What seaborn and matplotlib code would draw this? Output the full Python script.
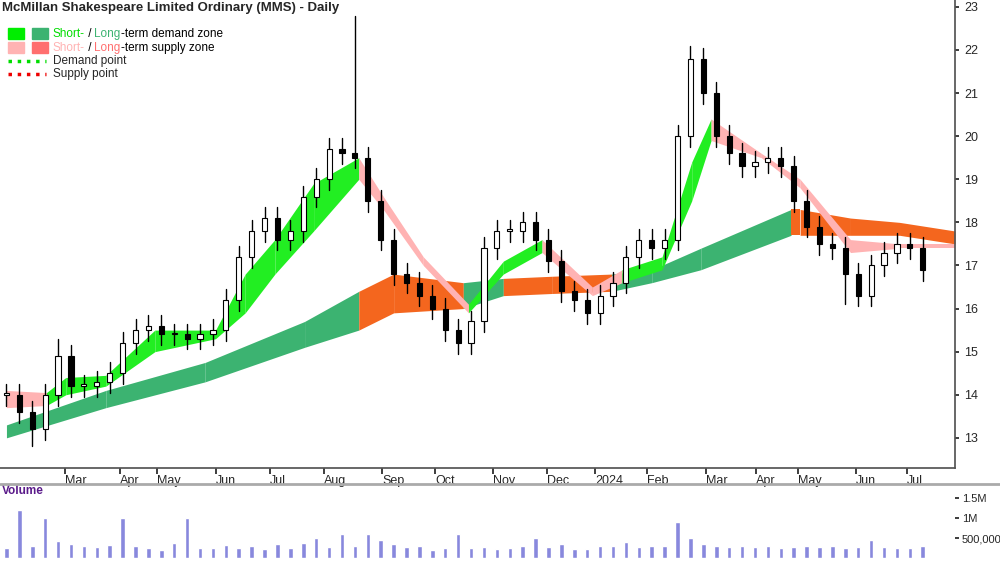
import matplotlib
matplotlib.use("Agg")
import matplotlib.pyplot as plt
import seaborn as sns
import numpy as np

sns.set_theme(style="white")
plt.rcParams['font.family'] = ['Liberation Sans', 'DejaVu Sans']

# weekly closes
closes = [14.0,13.6,13.2,14.0,14.9,14.2,14.2,14.3,14.5,15.2,15.5,15.6,15.4,15.4,15.3,15.4,15.5,16.2,
          17.2,17.8,18.1,17.6,17.8,18.6,19.0,19.7,19.6,19.5,18.5,17.6,16.8,16.6,16.3,16.0,15.5,15.2,
          15.7,17.4,17.8,17.8,18.0,17.6,17.1,16.4,16.2,15.9,16.3,16.6,17.2,17.6,17.4,17.6,20.0,21.8,
          21.0,20.0,19.6,19.3,19.4,19.5,19.3,18.5,17.9,17.5,17.4,16.8,16.3,17.0,17.3,17.5,17.4,16.9]
highs_extra = {2: 12.8, 4: 15.3, 27: 22.8, 53: 22.1, 65: 16.1}

volume = [250,1200,300,1000,420,350,300,280,320,1000,300,250,200,380,1000,260,250,330,240,
          300,220,350,250,380,500,280,600,300,600,450,340,280,300,200,250,600,240,280,220,
          250,300,500,280,340,230,220,300,300,400,280,300,300,900,500,350,300,280,300,280,
          300,250,280,300,280,300,260,280,450,280,260,250,300]

# long-term zone (week, lower, upper, type)
lt_x  = [0, 7.7, 15.4, 23.1, 27.3, 30.0, 35.4, 38.5, 42.3, 46.9, 50.0, 53.8, 60.8, 61.5, 65.4, 69.2, 73.5]
lt_lo = [13.0,13.7,14.3,15.1,15.5,15.9,16.0,16.3,16.35,16.4,16.6,16.9,17.7,17.7,17.7,17.7,17.5]
lt_hi = [13.3,14.1,14.75,15.7,16.4,16.8,16.6,16.7,16.75,16.8,16.9,17.4,18.3,18.3,18.1,18.0,17.8]
lt_ty = ['d','d','d','d','s','s','d','s','s','d','d','d','s','s','s','s','s']

# short-term zone
st_x  = [0,3.1,4.6,7.7,11.5,16.2,18.5,20.8,23.8,27.3,29.2,32.3,35.8,38.5,41.5,45.4,47.7,50.8,53.1,54.6,58.5,61.5,65.4,69.2,73.5]
st_lo = [13.7,13.75,14.0,14.2,15.0,15.3,15.9,16.8,17.8,19.0,18.3,17.0,15.9,16.8,17.3,16.3,16.6,16.9,18.5,19.9,19.5,18.8,17.3,17.4,17.4]
st_hi = [14.1,14.05,14.4,14.45,15.5,15.5,16.8,17.6,18.9,19.5,18.6,17.2,16.1,17.1,17.6,16.5,16.9,17.2,19.4,20.4,19.6,19.0,17.6,17.5,17.5]
st_ty = ['s','d','d','d','d','d','d','d','d','s','s','s','d','d','s','s','d','d','d','s','s','s','s','s','s']

month_pos = [4.5,8.8,11.7,16.2,20.4,24.6,29.1,33.2,37.7,41.9,45.6,49.6,54.2,58.1,61.3,65.8,69.8]
month_lbl = ['Mar','Apr','May','Jun','Jul','Aug','Sep','Oct','Nov','Dec','2024','Feb','Mar','Apr','May','Jun','Jul']

fig = plt.figure(figsize=(10, 5.62), dpi=100)
ax = fig.add_axes([0.0, 1-468/562, 0.955, 468/562])
axv = fig.add_axes([0.0, 4/562, 0.955, 72/562])
axv.patch.set_alpha(0)

def band(a, xs, lo, hi, ty, cd, cs):
    for i in range(len(xs)-1):
        a.fill_between([xs[i], xs[i+1]], [lo[i], lo[i+1]], [hi[i], hi[i+1]],
                       color=cd if ty[i] == 'd' else cs, lw=0, zorder=1)

band(ax, lt_x, lt_lo, lt_hi, lt_ty, '#3cb371', '#f4661e')
band(ax, st_x, st_lo, st_hi, st_ty, '#22ee22', '#ffb3b3')

for i, c in enumerate(closes):
    o = closes[i-1] if i > 0 else c
    lo, hi = min(o, c) - 0.25, max(o, c) + 0.25
    if i in highs_extra:
        v = highs_extra[i]
        hi = max(hi, v); lo = min(lo, v)
    ax.plot([i, i], [lo, hi], color='black', lw=1, zorder=3)
    b = max(abs(c-o), 0.04)
    ax.add_patch(plt.Rectangle((i-0.2, min(o, c)), 0.4, b,
                               facecolor='white' if c >= o else 'black', edgecolor='black', lw=0.8, zorder=4))

ax.set_xlim(-0.5, 73.5)
ax.set_ylim(12.3, 23.16)
ax.yaxis.tick_right()
ax.set_yticks(range(13, 24))
ax.tick_params(axis='y', labelsize=9, length=3, direction='out', right=True)
ax.set_xticks(month_pos)
ax.set_xticklabels(month_lbl, fontsize=9, ha='left')
ax.tick_params(axis='x', length=4, bottom=True, direction='out', pad=1)
for s in ['top', 'left']:
    ax.spines[s].set_visible(False)
ax.spines['bottom'].set_color('#555555')
ax.spines['right'].set_color('#555555')
ax.text(0.002, 0.995, 'McMillan Shakespeare Limited Ordinary (MMS) - Daily', transform=ax.transAxes,
        fontsize=9.5, fontweight='bold', va='top')

# legend
def chain(y, parts):
    t = ax.text(0.055, y, parts[0][0], color=parts[0][1], transform=ax.transAxes, fontsize=8.5, va='center')
    for s, c in parts[1:]:
        t = ax.annotate(s, xy=(1, 0), xycoords=t, xytext=(0, 0), textcoords='offset points',
                        color=c, fontsize=8.5, va='bottom')
lx = 0.008
for (yy, c1, c2) in [(0.928, '#00ee00', '#3cb371'), (0.898, '#ffb3b3', '#ff6f6f')]:
    ax.add_patch(plt.Rectangle((lx, yy-0.012), 0.017, 0.024, color=c1, transform=ax.transAxes))
    ax.add_patch(plt.Rectangle((lx+0.025, yy-0.012), 0.017, 0.024, color=c2, transform=ax.transAxes))
chain(0.928, [('Short-', '#00dd00'), (' / ', 'black'), ('Long', '#3cb371'), ('-term demand zone', 'black')])
chain(0.898, [('Short-', '#ffb3b3'), (' / ', 'black'), ('Long', '#ff6f6f'), ('-term supply zone', 'black')])
ax.plot([0.008, 0.048], [0.869, 0.869], color='#00dd00', ls=':', lw=2.5, transform=ax.transAxes)
ax.plot([0.008, 0.048], [0.841, 0.841], color='#ee0000', ls=':', lw=2.5, transform=ax.transAxes)
ax.text(0.055, 0.869, 'Demand point', transform=ax.transAxes, fontsize=8.5, va='center')
ax.text(0.055, 0.841, 'Supply point', transform=ax.transAxes, fontsize=8.5, va='center')

# volume
sns.despine(ax=axv, left=True, top=True, bottom=True)
axv.bar(np.arange(len(volume)), np.array(volume)*1000, width=0.35, color='#8888dd')
axv.set_xlim(-0.5, 73.5)
axv.set_ylim(0, 1.8e6)
axv.yaxis.tick_right()
axv.set_yticks([5e5, 1e6, 1.5e6])
axv.set_yticklabels(['500,000', '1M', '1.5M'], fontsize=8)
axv.tick_params(axis='y', length=3, right=True, pad=2)
axv.set_xticks([])
axv.spines['right'].set_color('#555555')
axv.text(0.002, 1.02, 'Volume', transform=axv.transAxes, color='#5a1a8a', fontsize=8.5, va='top', fontweight='bold')
fig.add_artist(plt.Line2D([0, 1], [1-484/562, 1-484/562], color='#aaaaaa', lw=2))

fig.savefig('out.png', dpi=100)
